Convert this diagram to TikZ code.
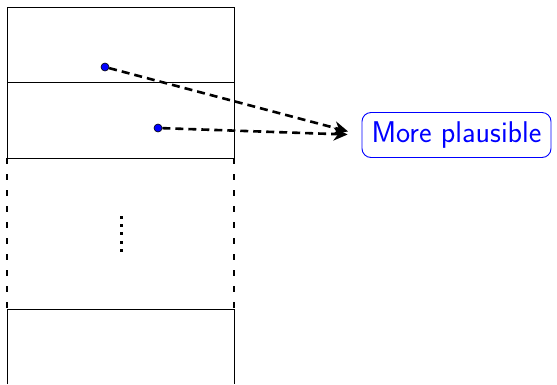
\documentclass[tikz,border=0pt]{standalone}
\usetikzlibrary{arrows.meta}
\begin{document}
\begin{tikzpicture}[x=1pt,y=-1pt,
  thinline/.style={line width=0.9pt,black},
  sideDash/.style={line width=1.6pt,dash pattern=on 6pt off 10pt},
  pt/.style={circle,draw=black,fill=blue,inner sep=0pt,minimum size=8pt,line width=0.6pt},
  conn/.style={line width=2.6pt,dash pattern=on 8pt off 5pt,-{Stealth[length=14pt,width=13pt]},shorten >=14pt},
  lbl/.style={draw=blue,text=blue,rounded corners=9pt,line width=0.9pt,font=\fontsize{30}{34}\sffamily,inner xsep=0pt,minimum height=45pt,minimum width=189pt},
  vdot/.style={fill=black,inner sep=0pt,minimum size=3pt}]
\useasboundingbox (0,0) rectangle (557,384);
% block outlines
\draw[thinline] (7,384) -- (7,309) (234,309) -- (234,384);
\draw[thinline] (7,158) -- (7,7) -- (234,7) -- (234,158);
\draw[thinline] (7,82) -- (234,82);
\draw[thinline] (7,158) -- (234,158);
\draw[thinline] (7,309) -- (234,309);
\draw[sideDash] (7,158) -- (7,309);
\draw[sideDash] (234,158) -- (234,309);
% vertical dots
\foreach \yy in {217,225,233,242,250} \node[vdot] at (121,\yy) {};
% label and points
\node[lbl] (mp) at (456.5,135) {More plausible};
\node[pt] (p1) at (105,67) {};
\node[pt] (p2) at (158,128) {};
\draw[conn] (p1) -- (mp.west);
\draw[conn] (p2) -- (mp.west);
\end{tikzpicture}
\end{document}
